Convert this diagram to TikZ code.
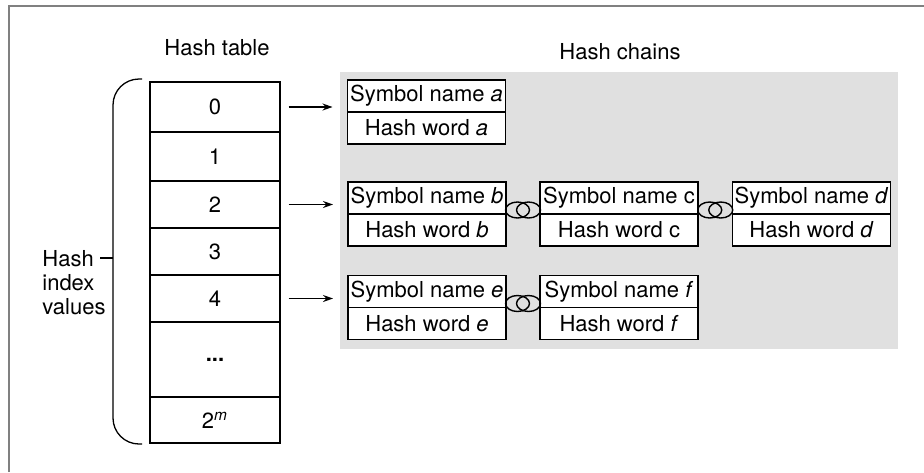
\documentclass[tikz,border=0pt]{standalone}
\usepackage{fontspec}
\setmainfont{TeX Gyre Heros}
\definecolor{chainbg}{RGB}{224, 224, 224}
\definecolor{framegray}{RGB}{128, 128, 128}
\usepackage{tikz}
\usetikzlibrary{shapes.geometric, arrows.meta, positioning, calc}

\begin{document}
\begin{tikzpicture}[x=0.5pt, y=-0.5pt, font=\fontsize{11}{12}\selectfont,
    cell/.style={draw, minimum width=65pt, inner sep=0pt, line width=0.65pt},
    field/.style={draw, fill=white, minimum width=79pt, minimum height=16pt,
                  inner sep=0pt, outer sep=0pt, line width=0.65pt},
    ring/.style={draw, ellipse, minimum width=12pt, minimum height=8pt,
                 inner sep=0pt, line width=0.7pt},
    ptr/.style={-{Stealth[length=5pt, width=3.5pt]}, line width=0.6pt,
                shorten <=4pt, shorten >=7.5pt}]
  \useasboundingbox (0,0) rectangle (924,472);

  % Frame and shaded chain area
  \draw[framegray, line width=1pt] (9,472) -- (9,6) -- (924,6);
  \fill[chainbg] (340,72) rectangle (898,349);

  % Titles
  \node (ttable) at (217,48) {Hash table};
  \node (tchains) at (620,52) {Hash chains};

  % Hash table cells
  \foreach \i/\yc/\hh/\txt in {0/107/25/0, 1/156.5/24.5/1, 2/204.5/23.5/2,
      3/251.5/23.5/3, 4/298.5/23.5/4, 5/359.5/37.5/\textbf{...},
      6/420/23/{2\textsuperscript{\itshape m}}}
    \node[cell, minimum height=\hh pt] (c\i) at (215,\yc) {\txt};

  % Brace with its label
  \draw[line width=0.65pt, rounded corners=13pt]
    (142,79) -- (113,79) -- (113,444) -- (142,444);
  \coordinate (btip) at (113,258);
  \node[anchor=north west, inner sep=0pt, align=left] (hiv) at (42,250)
    {Hash\\index\\values};
  \draw[line width=0.65pt] (btip) -- ++(-13,0);

  % Chain entries
  \node[field] (sa) at (426.5,96) {Symbol name \textit{a}};
  \node[field, below=0pt of sa] (wa) {Hash word \textit{a}};

  \node[field] (sb) at (427,198) {Symbol name \textit{b}};
  \node[field, below=0pt of sb] (wb) {Hash word \textit{b}};
  \node[field] (sc) at (619,198) {Symbol name c};
  \node[field, below=0pt of sc] (wc) {Hash word c};
  \node[field] (sd) at (811.5,198) {Symbol name \textit{d}};
  \node[field, below=0pt of sd] (wd) {Hash word \textit{d}};

  \node[field] (se) at (427,291.5) {Symbol name \textit{e}};
  \node[field, below=0pt of se] (we) {Hash word \textit{e}};
  \node[field] (sf) at (619,291.5) {Symbol name \textit{f}};
  \node[field, below=0pt of sf] (wf) {Hash word \textit{f}};

  % Links between entries
  \node[ring] (rbc1) at ($(sb.south east)!0.5!(sc.south west) + (-5.5,-4)$) {};
  \node[ring] (rbc2) at ($(sb.south east)!0.5!(sc.south west) + (5.5,-4)$) {};
  \node[ring] (rcd1) at ($(sc.south east)!0.5!(sd.south west) + (-5.5,-4)$) {};
  \node[ring] (rcd2) at ($(sc.south east)!0.5!(sd.south west) + (5.5,-4)$) {};
  \node[ring] (ref1) at ($(se.south east)!0.5!(sf.south west) + (-5.5,-4)$) {};
  \node[ring] (ref2) at ($(se.south east)!0.5!(sf.south west) + (5.5,-4)$) {};

  % Pointers from table to chains
  \draw[ptr] (c0.east) -- (c0.east -| sa.west);
  \draw[ptr] (c2.east) -- (c2.east -| sb.west);
  \draw[ptr] (c4.east) -- (c4.east -| se.west);
\end{tikzpicture}
\end{document}
